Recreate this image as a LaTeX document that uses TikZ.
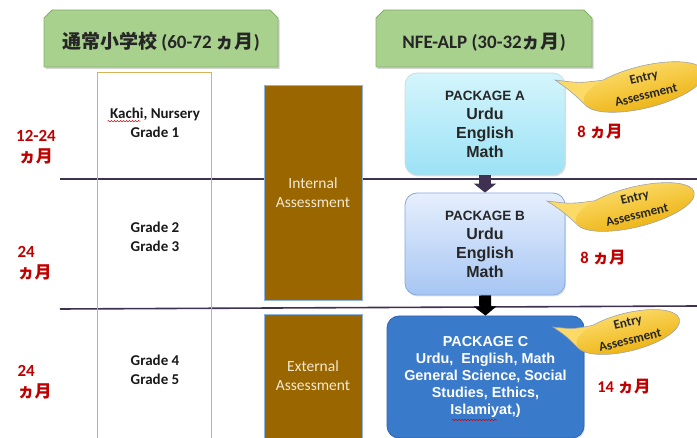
\documentclass[tikz,border=0pt]{standalone}
\usepackage{fontspec}
\setmainfont{Carlito}
\newfontfamily\cjk{Noto Sans CJK JP}
\newfontfamily\arial{Liberation Sans}
\usetikzlibrary{shadows,arrows.meta,calc,decorations.pathmorphing}
\definecolor{hdrgreen}{HTML}{A9D18E}
\definecolor{hdrborder}{HTML}{86AE6C}
\definecolor{rowline}{HTML}{3F3151}
\definecolor{gold}{HTML}{D6B25A}
\definecolor{brown}{HTML}{996600}
\definecolor{brownborder}{HTML}{8EB4E3}
\definecolor{cream}{HTML}{F4E9D2}
\definecolor{pkgAtop}{HTML}{D4F5FC}
\definecolor{pkgAbot}{HTML}{9CE2F6}
\definecolor{pkgAborder}{HTML}{C9DCE2}
\definecolor{pkgBtop}{HTML}{E6EFFD}
\definecolor{pkgBbot}{HTML}{A7C6F4}
\definecolor{pkgBborder}{HTML}{86A9DA}
\definecolor{pkgC}{HTML}{3A7ACB}
\definecolor{pkgCborder}{HTML}{2F66AE}
\definecolor{calltop}{HTML}{FFE37A}
\definecolor{callbot}{HTML}{E9AA00}
\definecolor{callborder}{HTML}{9FA3AA}
\definecolor{redlab}{HTML}{C00000}
\tikzset{
  hdr/.style={fill=hdrgreen, draw=hdrborder, line width=0.8pt,
    drop shadow={shadow xshift=1.5pt, shadow yshift=-2pt, opacity=0.35}},
  hdrtext/.style={font=\bfseries\fontsize{19}{22}\selectfont, text=black!85},
  leftcol/.style={draw=gold, line width=0.8pt, minimum width=114pt, minimum height=372pt, inner sep=0pt},
  gradetext/.style={font=\bfseries\fontsize{15}{19}\selectfont, align=center, text=black!90},
  assess/.style={fill=brown, draw=brownborder, line width=0.5pt, minimum width=98pt,
    inner sep=0pt, text=cream, align=center, font=\fontsize{15.5}{19}\selectfont},
  pkg/.style={rounded corners=12pt, minimum width=160pt, minimum height=102pt, inner sep=0pt,
    align=center, line width=0.8pt, text=black!85,
    drop shadow={shadow xshift=1pt, shadow yshift=-1.5pt, opacity=0.25}},
  pkgfont/.style={font=\arial\bfseries\fontsize{16}{19}\selectfont},
  rowsep/.style={draw=rowline, line width=1.6pt},
  redlabel/.style={text=redlab, font=\bfseries\fontsize{17}{21}\selectfont},
  redlabelsm/.style={text=redlab, font=\bfseries\fontsize{16.5}{20}\selectfont},
  blockarrow/.style={line width=12pt, -{Triangle[width=22pt,length=9pt]}},
  callshade/.style={top color=calltop, bottom color=callbot},
  callline/.style={draw=callborder, line width=0.6pt},
  calltext/.style={font=\bfseries\fontsize{13}{16}\selectfont, text=black!85, inner sep=0pt},
  squiggle/.style={draw=red!80!black, line width=0.5pt, decorate,
    decoration={snake, amplitude=0.6pt, segment length=3pt}},
}
\begin{document}
\begin{tikzpicture}[x=1pt,y=1pt]
\useasboundingbox (0,0) rectangle (697,437);

% row separators
\coordinate (l1a) at (60,258);
\coordinate (l1b) at (697,258);
\coordinate (l2a) at (60,128);
\coordinate (l2b) at (697,131);
\draw[rowsep] (l1a) -- (l1b);
\draw[rowsep] (l2a) -- (l2b);

% headers
\filldraw[hdr] (44,370) -- (44,419) -- (52,427) -- (270,427) -- (278,419) -- (278,370) -- cycle;
\node[hdrtext] (hL) at (161,395) {{\cjk\bfseries 通常小学校} (60-72 {\cjk\bfseries ヵ月})};
\filldraw[hdr] (376,370) -- (376,419) -- (384,427) -- (584,427) -- (592,419) -- (592,370) -- cycle;
\node[hdrtext] (hR) at (484,395) {NFE-ALP (30-32{\cjk\bfseries ヵ月})};

% left column
\node[leftcol] (col) at (154,179) {};
\node[gradetext] (g1) at (155,314.5) {Kachi, Nursery\\Grade 1};
\node[gradetext] (g2) at (155,200.5) {Grade 2\\Grade 3};
\node[gradetext] (g3) at (155,67.5) {Grade 4\\Grade 5};
\draw[squiggle] ($(g1.north west)+(1,-17)$) -- ++(33,0);

% assessments
\node[assess, minimum height=215pt] (ia) at (313,244.5) {Internal\\Assessment};
\node[assess, minimum height=130pt] (ea) at (313,58) {};
\node[text=cream, align=center, font=\fontsize{15.5}{19}\selectfont] (eat) at (313,61) {External\\Assessment};

% packages
\node[pkg, pkgfont, top color=pkgAtop, bottom color=pkgAbot, draw=pkgAborder] (pa) at (485,313)
  {{\fontsize{13.5}{17}\selectfont PACKAGE A}\\Urdu\\English\\Math};
\node[pkg, pkgfont, top color=pkgBtop, bottom color=pkgBbot, draw=pkgBborder] (pb) at (485,193)
  {{\fontsize{13.5}{17}\selectfont PACKAGE B}\\Urdu\\English\\Math};
\node[pkg, fill=pkgC, draw=pkgCborder, minimum width=197pt, minimum height=122pt, text=white,
  font=\arial\bfseries\fontsize{14.4}{16.8}\selectfont] (pc) at (485.5,60)
  {PACKAGE C\\Urdu,\ \ English, Math\\General Science, Social\\Studies, Ethics,\\Islamiyat,)};
\draw[squiggle] (452,17) -- (497,17);

% arrows
\draw[blockarrow, rowline] (pa.south) -- (pb.north);
\draw[blockarrow, black] (pb.south) -- (pc.north);

% red duration labels
\node[redlabel, align=center] (r1) at (36,289.5) {12-24\\{\cjk\bfseries ヵ月}};
\node[redlabel, align=left, anchor=west] (r2) at (14,174) {24\\{\cjk\bfseries ヵ月}};
\node[redlabel, align=left, anchor=west] (r3) at (14,55) {24\\{\cjk\bfseries ヵ月}};
\node[redlabelsm] (m1) at (600,305) {8\ {\cjk\bfseries ヵ月}};
\node[redlabelsm] (m2) at (603,179) {8\ {\cjk\bfseries ヵ月}};
\node[redlabelsm] (m3) at (624,50) {14\ {\cjk\bfseries ヵ月}};

% callouts
\foreach \cx/\cy/\rx/\ry/\tx/\ty/\nm in {644/350/62/21/555/357/ca, 635/230/61/20/547/236/cb, 628/105/53/19/553/110/cc}{
  \coordinate (\nm c) at (\cx,\cy);
  \coordinate (\nm t) at (\tx,\ty);
  \begin{scope}[shift={(\nm c)}, rotate=14]
    \coordinate (\nm a) at (128:\rx pt and \ry pt);
    \coordinate (\nm b) at (192:\rx pt and \ry pt);
    \coordinate (\nm e) at (2,8.5);
    \coordinate (\nm f) at (0,-8.5);
  \end{scope}
  \filldraw[callline, fill=calltop!85!callbot]
    (\nm t) .. controls ($(\nm t)!0.5!(\nm a)+(0,-3)$) .. (\nm a) -- (\nm b)
    .. controls ($(\nm t)!0.5!(\nm b)+(0,2)$) .. (\nm t) -- cycle;
  \begin{scope}[shift={(\nm c)}, rotate=14]
    \path[callshade, shading angle=14] (0,0) ellipse [x radius=\rx pt, y radius=\ry pt];
    \draw[callline] (192:\rx pt and \ry pt) arc [start angle=192, end angle=488, x radius=\rx pt, y radius=\ry pt];
  \end{scope}
  \node[calltext, rotate=14] (\nm x) at (\nm e) {Entry};
  \node[calltext, rotate=14] (\nm y) at (\nm f) {Assessment};
}
\end{tikzpicture}
\end{document}
